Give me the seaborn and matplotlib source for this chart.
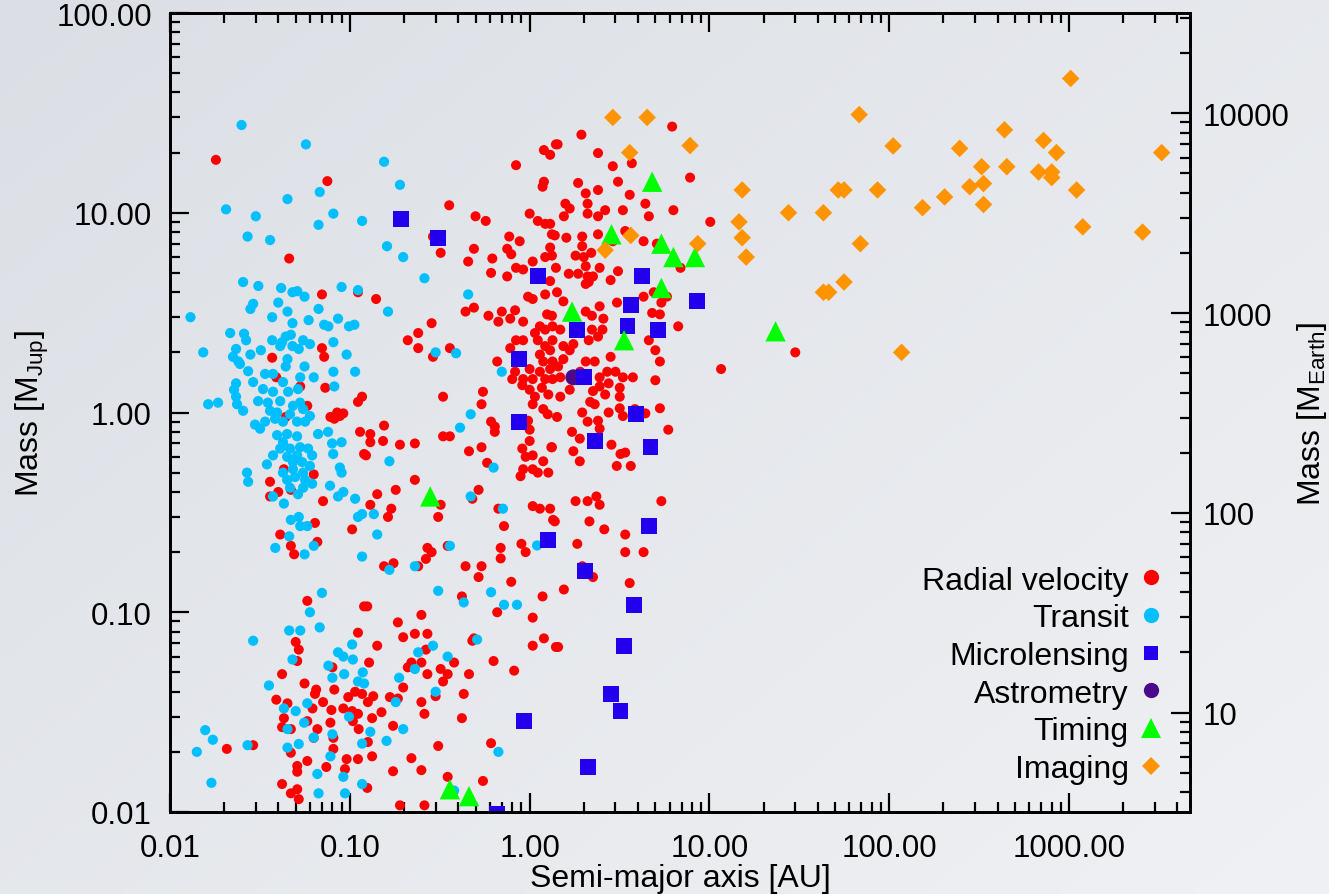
import numpy as np
import pandas as pd
import matplotlib
matplotlib.use("Agg")
import matplotlib.pyplot as plt
import seaborn as sns
from matplotlib.ticker import FixedLocator, LogLocator, NullFormatter, FuncFormatter
from matplotlib.lines import Line2D

# ---------------------------------------------------------------------------
# Exoplanet discoveries: (semi-major axis [AU], mass [M_Jup]) per method
# ---------------------------------------------------------------------------
radial_velocity = [
    (0.018, 18.4), (0.075, 14.4), (0.046, 5.9), (0.111, 4.0), (0.070, 3.9), (0.070, 2.1),
    (0.072, 1.9), (0.037, 1.88), (0.117, 1.2), (0.111, 1.13), (0.082, 0.93), (0.088, 0.96),
    (0.092, 0.99), (0.039, 1.5), (0.053, 1.35), (0.073, 1.33), (0.058, 1.08), (0.078, 0.95),
    (0.085, 1.0), (0.044, 0.95), (0.043, 0.52), (0.063, 0.49), (0.036, 0.45), (0.040, 0.40),
    (0.047, 0.41), (0.114, 0.80), (0.12, 0.62), (0.036, 0.38), (0.071, 0.36), (0.103, 0.26),
    (0.064, 0.28), (0.041, 0.245), (0.047, 0.215), (0.049, 0.195), (0.066, 0.225),
    (0.058, 0.114), (0.12, 0.107), (0.111, 0.079), (0.050, 0.071), (0.052, 0.065),
    (0.051, 0.057), (0.080, 0.053), (0.042, 0.049), (0.056, 0.044), (0.065, 0.041),
    (0.064, 0.039), (0.082, 0.041), (0.039, 0.0365), (0.045, 0.035), (0.071, 0.0355),
    (0.062, 0.033), (0.079, 0.0324), (0.098, 0.0376), (0.107, 0.040), (0.117, 0.039),
    (0.092, 0.033), (0.103, 0.032), (0.111, 0.031), (0.043, 0.0295), (0.058, 0.0285),
    (0.078, 0.028), (0.104, 0.0285), (0.042, 0.0266), (0.047, 0.026), (0.066, 0.026),
    (0.112, 0.026), (0.063, 0.0235), (0.081, 0.0235), (0.0207, 0.0207), (0.029, 0.0216),
    (0.047, 0.0198), (0.081, 0.0207), (0.096, 0.0184), (0.111, 0.0184), (0.058, 0.018),
    (0.051, 0.017), (0.051, 0.0159), (0.074, 0.0168), (0.094, 0.0164), (0.042, 0.0138),
    (0.051, 0.013), (0.047, 0.0124), (0.052, 0.0116),
    (0.84, 17.3), (1.2, 20.6), (1.3, 19.5), (1.4, 22.0), (1.2, 14.3), (1.18, 13.5),
    (0.357, 10.9), (0.50, 9.6), (0.57, 9.1), (1.0, 9.9), (1.11, 9.1), (1.22, 8.8), (1.3, 8.8),
    (0.29, 7.6), (0.77, 7.6), (0.88, 7.2), (0.49, 6.6), (0.32, 6.3), (0.75, 6.6), (0.79, 6.2),
    (1.33, 7.8), (1.3, 6.7), (1.22, 6.0), (0.455, 5.7), (0.62, 5.9), (1.04, 5.7), (0.61, 5.0),
    (0.84, 5.3), (0.92, 5.2), (0.75, 4.8), (0.14, 3.7), (0.44, 3.2), (0.49, 3.35), (0.59, 3.05),
    (0.70, 3.2), (0.83, 3.25), (0.67, 2.85), (0.78, 2.95), (0.285, 2.8), (0.24, 2.5),
    (0.21, 2.3), (0.24, 2.1), (0.36, 2.1), (0.29, 1.9), (0.84, 2.3), (0.78, 2.1), (0.66, 1.8),
    (0.83, 1.6), (0.80, 1.47), (0.33, 1.2), (0.55, 1.27), (0.54, 1.1), (0.91, 1.37),
    (0.13, 0.78), (0.13, 0.71), (0.155, 0.86), (0.153, 0.72), (0.19, 0.69), (0.23, 0.70),
    (0.123, 0.61), (0.33, 0.76), (0.36, 0.76), (0.61, 0.9), (0.64, 0.85), (0.64, 0.8),
    (0.54, 0.67), (0.46, 0.64), (0.58, 0.56), (0.23, 0.46), (0.18, 0.41), (0.142, 0.39),
    (0.13, 0.345), (0.17, 0.33), (0.163, 0.30), (0.52, 0.41), (0.48, 0.37), (0.32, 0.345),
    (0.31, 0.30), (0.67, 0.33), (0.72, 0.27), (0.95, 0.9), (1.0, 0.82), (1.0, 0.72),
    (0.91, 0.66), (0.95, 0.60), (1.04, 0.61), (1.19, 0.57), (0.92, 0.52), (0.89, 0.48),
    (1.04, 0.52), (1.11, 0.50), (1.27, 0.50), (1.33, 0.67), (1.26, 0.98), (1.04, 0.34),
    (1.14, 0.33), (1.3, 0.33), (1.35, 0.29), (0.27, 0.21), (0.285, 0.20), (0.265, 0.185),
    (0.24, 0.17), (0.155, 0.17), (0.175, 0.176), (0.35, 0.215), (0.69, 0.21), (0.69, 0.186),
    (0.90, 0.22), (0.95, 0.20), (0.44, 0.17), (0.54, 0.17), (0.52, 0.15), (0.79, 0.142),
    (0.42, 0.12), (1.18, 0.12), (0.125, 0.107), (0.66, 0.10), (1.04, 0.094), (0.25, 0.097),
    (0.185, 0.089), (0.198, 0.075), (0.23, 0.078), (0.27, 0.078), (0.265, 0.065),
    (0.142, 0.068), (0.48, 0.072), (0.49, 0.074), (1.04, 0.068), (1.2, 0.074), (1.4, 0.067),
    (0.128, 0.056), (0.22, 0.056), (0.25, 0.056), (0.21, 0.053), (0.32, 0.052), (0.38, 0.056),
    (0.35, 0.049), (0.27, 0.049), (0.46, 0.049), (0.63, 0.057), (0.82, 0.051), (0.33, 0.045),
    (0.198, 0.042), (0.30, 0.038), (0.43, 0.039), (0.135, 0.038), (0.126, 0.0355),
    (0.167, 0.0376), (0.185, 0.037), (0.25, 0.0355), (0.15, 0.0316), (0.26, 0.031),
    (0.133, 0.0295), (0.42, 0.0295), (0.174, 0.027), (0.126, 0.0224), (0.31, 0.0214),
    (0.61, 0.0221), (0.133, 0.019), (0.22, 0.0186), (0.174, 0.016), (0.25, 0.0162),
    (0.35, 0.015), (0.55, 0.0143), (0.125, 0.0132), (0.19, 0.0108), (0.26, 0.0108),
    (6.2, 27.0), (1.94, 24.6), (1.43, 22.0), (2.4, 19.9), (2.9, 17.1), (3.7, 17.7), (7.8, 15.0),
    (1.86, 14.1), (3.1, 14.3), (2.05, 12.5), (2.4, 13.0), (3.6, 12.3), (1.58, 11.1),
    (1.67, 10.5), (2.1, 11.1), (2.63, 10.3), (3.3, 10.3), (4.4, 11.1), (6.3, 10.3), (10.1, 9.0),
    (1.55, 9.6), (2.1, 9.9), (2.4, 9.6), (4.6, 9.6), (2.4, 7.8), (3.4, 8.1), (1.38, 7.7),
    (1.6, 7.5), (1.96, 7.6), (2.9, 7.2), (4.3, 7.2), (5.1, 7.0), (1.96, 6.8), (2.0, 6.0),
    (2.2, 6.3), (1.8, 6.1), (1.33, 6.1), (1.4, 5.3), (1.65, 4.95), (1.86, 4.95), (2.05, 5.4),
    (2.45, 5.3), (3.1, 5.1), (6.9, 5.3), (2.1, 4.8), (2.25, 4.8), (4.3, 3.8), (4.9, 4.0),
    (5.4, 3.55), (5.8, 3.8), (4.8, 3.15), (5.3, 3.1), (6.7, 2.7), (4.6, 2.3), (5.0, 2.05),
    (5.3, 1.8), (5.0, 1.45), (11.6, 1.65), (5.3, 1.05), (4.4, 0.99), (5.9, 0.82),
    (1.32, 0.67), (1.75, 0.64), (2.85, 0.69), (3.2, 0.62), (3.4, 0.63), (1.9, 0.57),
    (3.05, 0.54), (3.65, 0.54), (1.72, 0.80), (2.45, 0.83), (1.9, 0.74), (1.8, 0.36),
    (2.1, 0.36), (2.35, 0.38), (2.45, 0.345), (5.4, 0.36), (1.38, 0.285), (2.15, 0.285),
    (2.6, 0.26), (3.4, 0.245), (1.84, 0.22), (3.4, 0.20), (4.3, 0.20), (1.96, 0.17),
    (2.25, 0.15), (3.6, 0.14), (1.55, 0.13), (1.44, 0.067), (30.0, 2.0),
    (1.30, 4.55), (0.98, 3.8), (1.04, 3.7), (1.22, 3.9), (1.42, 4.0), (1.54, 3.6), (2.05, 4.4),
    (2.13, 4.5), (2.82, 4.6), (2.45, 3.4), (3.06, 3.55), (0.92, 2.85), (1.25, 3.1), (1.33, 3.05),
    (1.14, 2.7), (1.34, 2.7), (1.07, 2.5), (1.22, 2.6), (1.48, 2.6), (2.05, 3.2), (2.22, 3.05),
    (2.57, 2.95), (2.22, 2.6), (2.54, 2.6), (0.92, 2.3), (1.11, 2.3), (1.22, 2.15), (1.34, 2.3),
    (1.54, 2.15), (1.75, 2.2), (2.13, 2.3), (2.40, 2.4), (1.14, 1.95), (1.30, 2.05),
    (1.67, 2.05), (2.05, 1.8), (2.30, 1.8), (2.82, 1.9), (1.19, 1.8), (1.34, 1.8), (1.54, 1.85),
    (1.0, 1.65), (1.14, 1.6), (1.30, 1.65), (1.44, 1.7), (1.91, 1.6), (0.92, 1.47),
    (1.04, 1.47), (1.22, 1.47), (1.34, 1.47), (1.48, 1.5), (2.45, 1.5), (2.70, 1.6), (3.0, 1.6),
    (3.30, 1.5), (3.75, 1.5), (1.0, 1.3), (1.17, 1.33), (1.67, 1.3), (2.45, 1.35), (2.75, 1.4),
    (3.17, 1.33), (1.07, 1.2), (1.27, 1.23), (1.48, 1.2), (2.25, 1.28), (2.63, 1.23),
    (3.17, 1.2), (1.04, 1.1), (1.19, 1.04), (1.42, 0.95), (2.17, 1.13), (2.30, 1.1),
    (2.75, 1.0), (3.17, 1.05), (1.96, 1.0), (0.98, 0.91), (2.10, 0.9), (2.40, 0.91),
    (3.30, 0.96), (3.85, 1.04),
]

transit = [
    (0.025, 27.5), (0.057, 22.0), (0.045, 11.7), (0.068, 12.7), (0.0205, 10.4), (0.030, 9.6),
    (0.081, 9.9), (0.067, 8.7), (0.117, 9.1), (0.027, 7.6), (0.036, 7.3),
    (0.0255, 4.5), (0.031, 4.3), (0.0415, 4.2), (0.048, 4.0), (0.051, 4.05), (0.056, 3.8),
    (0.09, 4.25), (0.111, 4.1), (0.029, 3.5), (0.028, 3.3), (0.040, 3.55), (0.045, 3.2),
    (0.037, 3.0), (0.067, 3.3), (0.013, 3.0), (0.048, 2.8), (0.059, 2.9), (0.072, 2.75),
    (0.076, 2.7), (0.086, 2.95), (0.099, 2.7), (0.106, 2.75), (0.0216, 2.5), (0.0258, 2.48),
    (0.0265, 2.3), (0.0233, 2.08), (0.0153, 2.0), (0.032, 2.05), (0.028, 1.95), (0.0224, 1.9),
    (0.024, 1.8), (0.0245, 1.75), (0.037, 2.3), (0.042, 2.25), (0.044, 2.4), (0.047, 2.45),
    (0.055, 2.3), (0.060, 2.2), (0.052, 2.08), (0.048, 2.15), (0.041, 2.15), (0.045, 1.85),
    (0.044, 1.7), (0.081, 2.25), (0.096, 1.95), (0.0233, 1.4), (0.0227, 1.3), (0.0233, 1.2),
    (0.0163, 1.1), (0.0185, 1.12), (0.0236, 1.1), (0.107, 1.6), (0.056, 1.7), (0.081, 1.6),
    (0.082, 1.35), (0.063, 1.5), (0.053, 1.5),
    (0.0272, 1.61), (0.0338, 1.56), (0.0374, 1.56), (0.0425, 1.42), (0.029, 1.42),
    (0.0329, 1.31), (0.0374, 1.27), (0.0454, 1.27), (0.0515, 1.31), (0.0309, 1.14),
    (0.035, 1.12), (0.041, 1.14), (0.0483, 1.08), (0.0529, 1.12), (0.0255, 1.02), (0.036, 1.02),
    (0.0394, 1.0), (0.0465, 0.98), (0.055, 1.04), (0.060, 0.96), (0.0297, 0.87),
    (0.0338, 0.90), (0.0384, 0.93), (0.0425, 0.90), (0.0509, 0.90), (0.0564, 0.90),
    (0.0317, 0.83), (0.0394, 0.77), (0.0448, 0.78), (0.0509, 0.76), (0.0425, 0.71),
    (0.041, 0.66), (0.0465, 0.66), (0.0529, 0.67), (0.0586, 0.66), (0.0374, 0.61),
    (0.0448, 0.60), (0.0509, 0.61), (0.0617, 0.61), (0.0346, 0.55), (0.0483, 0.565),
    (0.0543, 0.565), (0.060, 0.54), (0.0425, 0.50), (0.0483, 0.52), (0.055, 0.50),
    (0.0448, 0.46), (0.0496, 0.475), (0.0564, 0.46), (0.0268, 0.50), (0.0272, 0.45),
    (0.0465, 0.42), (0.055, 0.42), (0.0617, 0.44), (0.0515, 0.39), (0.0374, 0.38),
    (0.0776, 0.43), (0.0666, 0.78), (0.0757, 0.80), (0.0797, 0.70), (0.0808, 0.62),
    (0.090, 0.71), (0.088, 0.53), (0.090, 0.50), (0.092, 0.40), (0.086, 0.38), (0.107, 0.37),
    (0.043, 0.35), (0.111, 0.30), (0.117, 0.31), (0.047, 0.29), (0.052, 0.30), (0.053, 0.27),
    (0.058, 0.27), (0.046, 0.24), (0.0385, 0.21), (0.056, 0.195), (0.063, 0.215),
    (0.117, 0.19), (0.070, 0.125), (0.060, 0.10), (0.068, 0.084), (0.046, 0.081),
    (0.053, 0.081), (0.029, 0.072), (0.048, 0.058), (0.086, 0.063), (0.092, 0.060),
    (0.104, 0.058), (0.103, 0.069), (0.076, 0.054), (0.080, 0.047), (0.093, 0.049),
    (0.111, 0.045), (0.0355, 0.043), (0.058, 0.035), (0.043, 0.033), (0.050, 0.032),
    (0.099, 0.030), (0.045, 0.026), (0.0557, 0.028), (0.063, 0.0236), (0.080, 0.0245),
    (0.0157, 0.0257), (0.0173, 0.023), (0.0141, 0.020), (0.027, 0.0216), (0.045, 0.021),
    (0.052, 0.0219), (0.078, 0.019), (0.117, 0.022), (0.017, 0.014), (0.066, 0.0155),
    (0.092, 0.015), (0.067, 0.0124), (0.094, 0.0124), (0.117, 0.0138),
    (0.155, 18.0), (0.19, 13.8), (0.161, 6.8), (0.198, 6.0), (0.26, 4.7), (0.455, 3.9),
    (0.163, 3.2), (0.30, 2.0), (0.39, 1.98), (0.70, 1.6), (0.47, 0.98), (0.41, 0.84),
    (0.166, 0.57), (0.63, 0.53), (0.47, 0.38), (0.136, 0.31), (0.142, 0.245), (0.71, 0.33),
    (0.36, 0.215), (0.166, 0.163), (0.23, 0.17), (1.1, 0.216), (0.31, 0.128), (0.43, 0.112),
    (0.61, 0.126), (0.72, 0.109), (0.85, 0.109), (0.51, 0.073), (0.29, 0.068), (0.24, 0.063),
    (0.35, 0.060), (0.23, 0.052), (0.188, 0.047), (0.118, 0.050), (0.12, 0.044), (0.30, 0.040),
    (0.18, 0.0355), (0.198, 0.026), (0.13, 0.0252), (0.16, 0.0227), (0.67, 0.020),
    (0.38, 0.0128),
]

microlensing = [
    (0.193, 9.3), (0.31, 7.5), (1.11, 4.8), (0.87, 1.85), (0.87, 0.9), (4.2, 4.8), (3.65, 3.45),
    (8.5, 3.6), (1.83, 2.6), (3.5, 2.7), (5.2, 2.6), (2.0, 1.5), (3.9, 0.98), (2.3, 0.72),
    (4.7, 0.67), (4.6, 0.27), (1.27, 0.23), (2.03, 0.16), (3.8, 0.109), (3.35, 0.068),
    (2.85, 0.039), (3.2, 0.032), (0.93, 0.0285), (2.1, 0.0168), (0.66, 0.0098),
]

astrometry = [(1.75, 1.5)]

timing = [
    (0.28, 0.38), (0.36, 0.013), (0.46, 0.012), (4.8, 14.3), (2.85, 7.8), (5.4, 7.0),
    (6.3, 6.0), (8.3, 6.0), (5.4, 4.2), (1.72, 3.2), (3.35, 2.3), (23.3, 2.55),
]

imaging = [
    (2.9, 30.0), (4.5, 30.0), (3.6, 20.0), (7.8, 21.7), (3.65, 7.7), (2.63, 6.5), (8.6, 7.0),
    (1020, 47.0), (68, 31.0), (437, 26.0), (105, 21.6), (246, 21.0), (720, 23.0), (850, 20.0),
    (3270, 20.0), (326, 17.0), (450, 17.0), (676, 16.0), (800, 16.0), (800, 15.0), (280, 13.5),
    (334, 14.0), (1100, 13.0), (15.2, 13.0), (52, 13.0), (56, 13.0), (86, 13.0), (203, 12.0),
    (153, 10.6), (334, 11.0), (27.5, 10.0), (43, 10.0), (14.6, 9.0), (15.2, 7.5), (16, 6.0),
    (1190, 8.5), (2560, 8.0), (69, 7.0), (56, 4.5), (43, 4.0), (46, 4.0), (117, 2.0),
]

methods = ["Radial velocity", "Transit", "Microlensing", "Astrometry", "Timing", "Imaging"]
# drawing order (later series sit on top)
series = [radial_velocity, transit, astrometry, microlensing, timing, imaging]
series_names = ["Radial velocity", "Transit", "Astrometry", "Microlensing", "Timing", "Imaging"]

colors = {
    "Radial velocity": "#ff0000",
    "Transit": "#00bfff",
    "Microlensing": "#2200ee",
    "Astrometry": "#4b0a8c",
    "Timing": "#00ff00",
    "Imaging": "#ff9400",
}
markers = {
    "Radial velocity": "o",
    "Transit": "o",
    "Microlensing": "s",
    "Astrometry": "o",
    "Timing": "^",
    "Imaging": "D",
}
# marker areas in points^2
sizes = {
    "Radial velocity": 52,
    "Transit": 54,
    "Microlensing": 132,
    "Astrometry": 132,
    "Timing": 215,
    "Imaging": 80,
}

EARTH_PER_JUP = 317.8

frames = []
for name, pts in zip(series_names, series):
    arr = np.array(pts, dtype=float)
    frames.append(pd.DataFrame({"a": arr[:, 0], "mass": arr[:, 1], "method": name}))
df = pd.concat(frames, ignore_index=True)

# ---------------------------------------------------------------------------
# Style
# ---------------------------------------------------------------------------
sns.set_style("ticks")
plt.rcParams["font.family"] = ["Liberation Sans", "DejaVu Sans"]
plt.rcParams["mathtext.fontset"] = "custom"
plt.rcParams["mathtext.rm"] = "Liberation Sans"
plt.rcParams["mathtext.it"] = "Liberation Sans:italic"
plt.rcParams["text.color"] = "black"
plt.rcParams["axes.labelcolor"] = "black"
plt.rcParams["xtick.color"] = "black"
plt.rcParams["ytick.color"] = "black"

FS_TICK = 22.5
FS_LABEL = 23

fig = plt.figure(figsize=(13.29, 8.95), dpi=100)

# soft slide-style backdrop, darker toward the upper left
bg = fig.add_axes([0, 0, 1, 1], zorder=-10)
yy, xx = np.mgrid[0:1:300j, 0:1:450j]
t = np.clip(0.55 * xx + 0.45 * yy, 0, 1)[..., None]
c0 = np.array([219, 223, 229]) / 255.0
c1 = np.array([240, 241, 244]) / 255.0
bg.imshow(c0 + (c1 - c0) * t, aspect="auto", extent=[0, 1, 0, 1], origin="upper",
          interpolation="bilinear")
bg.axis("off")

ax = fig.add_axes([170 / 1329, 82 / 895, 1020 / 1329, 799 / 895])
ax.set_facecolor("none")

sns.scatterplot(
    data=df, x="a", y="mass", hue="method", style="method", size="method",
    palette=colors, markers=markers, sizes=sizes, hue_order=methods,
    style_order=methods, size_order=methods, linewidth=0, edgecolor="none",
    legend=False, ax=ax,
)

ax.set_xscale("log")
ax.set_yscale("log")
ax.set_xlim(0.01, 4700)
ax.set_ylim(0.01, 100)

two_dec = FuncFormatter(lambda v, p: f"{v:.2f}")
ax.xaxis.set_major_locator(FixedLocator([0.01, 0.1, 1, 10, 100, 1000]))
ax.xaxis.set_major_formatter(two_dec)
ax.xaxis.set_minor_locator(LogLocator(base=10, subs=np.arange(2, 10), numticks=30))
ax.xaxis.set_minor_formatter(NullFormatter())
ax.yaxis.set_major_locator(FixedLocator([0.01, 0.1, 1, 10, 100]))
ax.yaxis.set_major_formatter(two_dec)
ax.yaxis.set_minor_locator(LogLocator(base=10, subs=np.arange(2, 10), numticks=30))
ax.yaxis.set_minor_formatter(NullFormatter())

ax.tick_params(which="both", direction="in", top=True, right=False, width=1.6,
               labelsize=FS_TICK)
ax.tick_params(axis="x", which="both", pad=15)
ax.tick_params(axis="y", which="both", pad=13)
ax.tick_params(which="major", length=14)
ax.tick_params(which="minor", length=7)

ax.set_xlabel("Semi-major axis [AU]", fontsize=FS_LABEL, labelpad=0)
ax.set_ylabel(r"Mass [M$_{\mathrm{Jup}}$]", fontsize=FS_LABEL, labelpad=4)

# secondary mass scale in Earth masses
ax2 = ax.twinx()
ax2.set_yscale("log")
ax2.set_ylim(0.01 * EARTH_PER_JUP, 100 * EARTH_PER_JUP)
ax2.yaxis.set_major_locator(FixedLocator([10, 100, 1000, 10000]))
ax2.yaxis.set_major_formatter(FuncFormatter(lambda v, p: f"{v:.0f}"))
ax2.yaxis.set_minor_locator(LogLocator(base=10, subs=np.arange(2, 10), numticks=30))
ax2.yaxis.set_minor_formatter(NullFormatter())
ax2.tick_params(which="both", direction="in", width=1.6, labelsize=FS_TICK, pad=9)
ax2.tick_params(which="major", length=14)
ax2.tick_params(which="minor", length=7)
ax2.set_ylabel(r"Mass [M$_{\mathrm{Earth}}$]", fontsize=FS_LABEL, labelpad=4)

for a in (ax, ax2):
    for side, sp in a.spines.items():
        sp.set_visible(True)
        sp.set_color("black")
        sp.set_linewidth(2.0)

# legend: label text on the left, marker on the right
legend_sizes = {"o": 11, "s": 10.5, "^": 15, "D": 8.8}
handles = [
    Line2D([], [], linestyle="none", marker=markers[m], color=colors[m],
           markeredgewidth=0, markersize=legend_sizes[markers[m]])
    for m in methods
]
ax2.legend(
    handles, methods, loc="lower right", bbox_to_anchor=(1164 / 1329, 110 / 895),
    bbox_transform=fig.transFigure, frameon=False, markerfirst=False, fontsize=FS_LABEL,
    labelspacing=0.24, handletextpad=0.3, handlelength=0.8, borderpad=0,
    borderaxespad=0,
)

fig.savefig("out.png", dpi=100)
